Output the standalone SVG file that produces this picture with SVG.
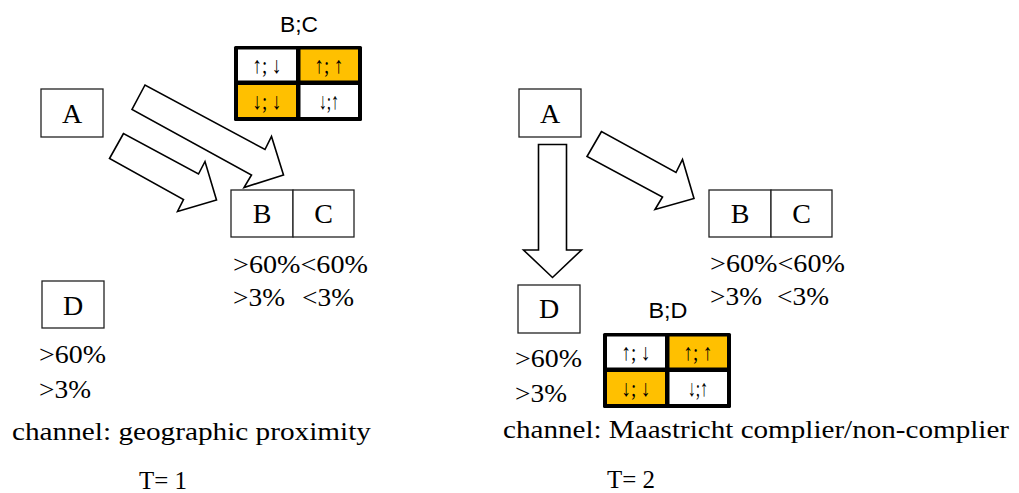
<svg xmlns="http://www.w3.org/2000/svg" width="1019" height="493" viewBox="0 0 1019 493">
<style>
.box{fill:#fff;stroke:#222;stroke-width:1.3}
.arr{fill:#fff;stroke:#000;stroke-width:1.6;stroke-linejoin:miter}
.w{fill:#fff}.o{fill:#FFC000}
</style>
<defs>
<g id="grid" font-family="'Liberation Serif', 'DejaVu Serif', serif" font-size="23" text-anchor="middle" fill="#000">
<rect x="0" y="0" width="128" height="75" fill="#000" rx="1.5"/>
<rect class="w" x="4" y="3.5" width="58" height="31"/>
<rect class="o" x="66.5" y="3.5" width="57.5" height="31"/>
<rect class="o" x="4" y="39" width="58" height="32"/>
<rect class="w" x="66.5" y="39" width="57.5" height="32"/>
<text x="33" y="27" textLength="29" lengthAdjust="spacingAndGlyphs">↑; ↓</text>
<text x="95" y="27" textLength="29" lengthAdjust="spacingAndGlyphs">↑; ↑</text>
<text x="33" y="63" textLength="29" lengthAdjust="spacingAndGlyphs">↓; ↓</text>
<text x="95" y="63" textLength="20" lengthAdjust="spacingAndGlyphs">↓;↑</text>
</g>
</defs>

<g id="connectors">
<polygon class="arr" points="145,85 132,109.5 251.5,175 244,187.5 283.5,175 271.5,136.5 265,149.5"/>
<polygon class="arr" points="123.5,133.5 109.5,158.5 183.5,199.5 177.5,211.5 216.5,200 205,161.5 198.5,174"/>
<polygon class="arr" points="538.5,144.5 566.5,144.5 566.5,250 581.5,250 552.5,277.5 523.5,250 538.5,250"/>
<polygon class="arr" points="601.5,131.5 587,156.5 662.5,197 655,209.5 694,198.5 682.5,159.5 676,172.5"/>
</g>

<g font-family="'Liberation Serif', 'Times New Roman', serif" font-size="28" text-anchor="middle" fill="#000">
<g id="nodeA1"><rect class="box" x="41" y="89" width="62" height="48"/><text x="72" y="123">A</text></g>
<g id="nodeBC1">
<rect class="box" x="231" y="190" width="62" height="47"/><text x="262" y="223">B</text>
<rect class="box" x="293" y="190" width="61" height="47"/><text x="323.5" y="223">C</text>
</g>
<g id="nodeD1"><rect class="box" x="42" y="281" width="62" height="47"/><text x="73" y="315">D</text></g>
<g id="nodeA2"><rect class="box" x="519" y="89" width="62" height="48"/><text x="550" y="123">A</text></g>
<g id="nodeBC2">
<rect class="box" x="709" y="190" width="62" height="47"/><text x="740" y="223">B</text>
<rect class="box" x="771" y="190" width="61" height="47"/><text x="801.5" y="223">C</text>
</g>
<g id="nodeD2"><rect class="box" x="518" y="285" width="62" height="48"/><text x="549" y="318">D</text></g>
</g>

<g font-family="'Liberation Sans', Arial, sans-serif" font-size="22" text-anchor="middle" fill="#000">
<g id="gridBC">
<text x="299" y="32" textLength="38" lengthAdjust="spacingAndGlyphs">B;C</text>
<use href="#grid" x="234" y="46"/>
</g>
<g id="gridBD">
<text x="668" y="318" textLength="39" lengthAdjust="spacingAndGlyphs">B;D</text>
<use href="#grid" x="603" y="333"/>
</g>
</g>

<g font-family="'Liberation Serif', 'Times New Roman', serif" font-size="25" fill="#000">
<g id="texts1">
<text x="233" y="273" textLength="135" lengthAdjust="spacingAndGlyphs">&gt;60%&lt;60%</text>
<text x="233" y="306" textLength="52" lengthAdjust="spacingAndGlyphs">&gt;3%</text>
<text x="302" y="306" textLength="52" lengthAdjust="spacingAndGlyphs">&lt;3%</text>
<text x="39" y="363" textLength="67" lengthAdjust="spacingAndGlyphs">&gt;60%</text>
<text x="39" y="398" textLength="52" lengthAdjust="spacingAndGlyphs">&gt;3%</text>
<text x="12" y="440" textLength="359" lengthAdjust="spacingAndGlyphs">channel: geographic proximity</text>
<text x="139" y="489" textLength="48" lengthAdjust="spacingAndGlyphs">T= 1</text>
</g>
<g id="texts2">
<text x="710" y="272" textLength="135" lengthAdjust="spacingAndGlyphs">&gt;60%&lt;60%</text>
<text x="710" y="305" textLength="52" lengthAdjust="spacingAndGlyphs">&gt;3%</text>
<text x="777" y="305" textLength="52" lengthAdjust="spacingAndGlyphs">&lt;3%</text>
<text x="515" y="367" textLength="67" lengthAdjust="spacingAndGlyphs">&gt;60%</text>
<text x="515" y="402" textLength="52" lengthAdjust="spacingAndGlyphs">&gt;3%</text>
<text x="503" y="438" textLength="506" lengthAdjust="spacingAndGlyphs">channel: Maastricht complier/non-complier</text>
<text x="607" y="488" textLength="48" lengthAdjust="spacingAndGlyphs">T= 2</text>
</g>
</g>
</svg>
